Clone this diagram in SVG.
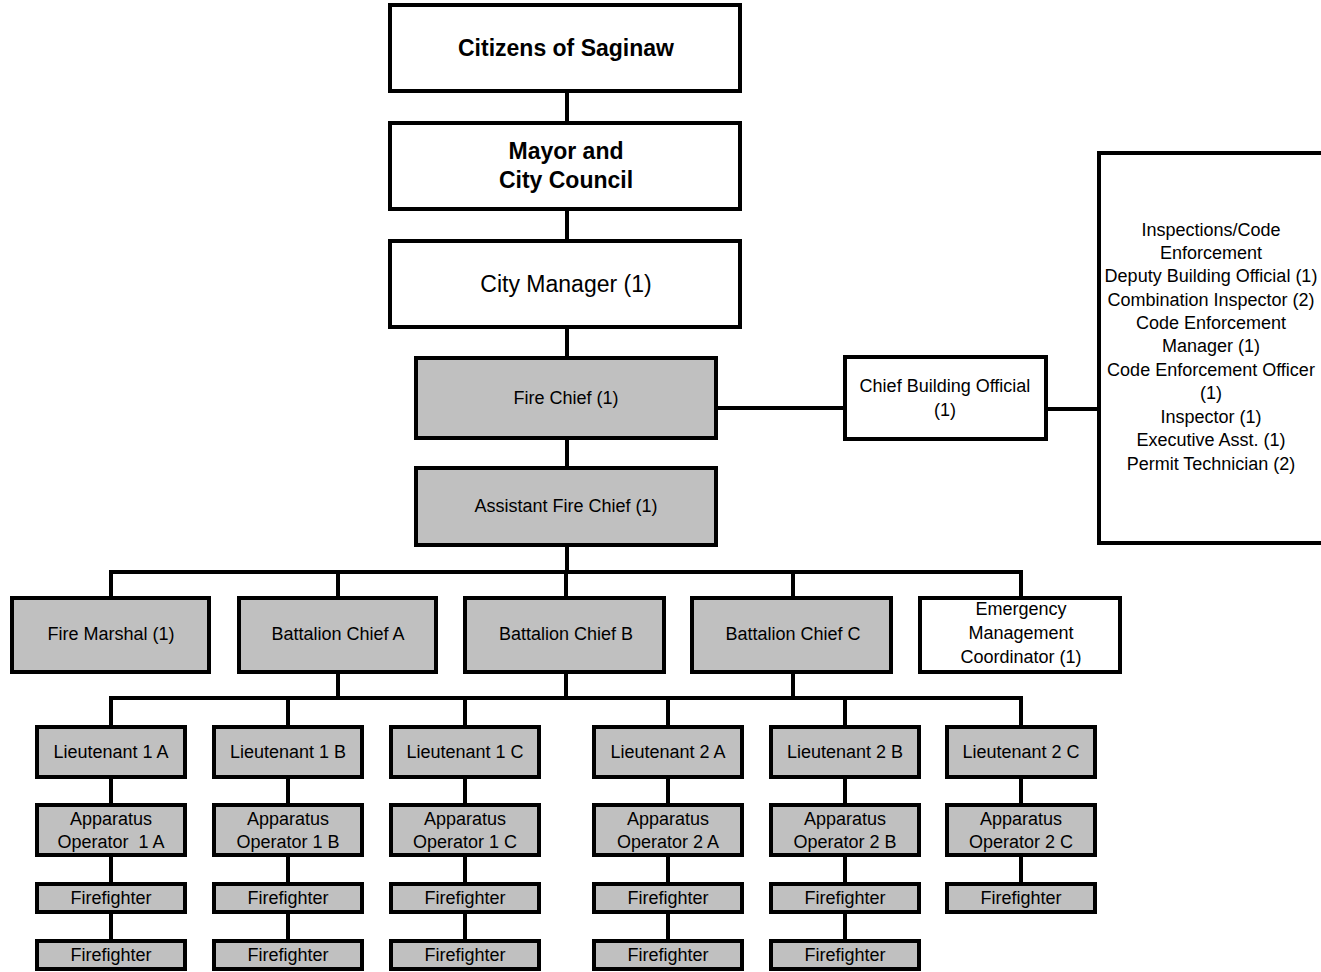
<svg xmlns="http://www.w3.org/2000/svg" width="1321" height="972" viewBox="0 0 1321 972">
<style>
.b{stroke:#000;stroke-width:4;fill:#fff}
.g{stroke:#000;stroke-width:4;fill:#c0c0c0}
.c{stroke:#000;stroke-width:4;fill:none}
text{font-family:"Liberation Sans",Arial,sans-serif;font-size:18px;fill:#000;text-anchor:middle;dominant-baseline:central}
.big{font-size:23px}
.bold{font-weight:bold}
.pre{white-space:pre}
</style>
<g id="connectors">
<path class="c" d="M567,91V123M567,209V241M567,327V358M567,438V468M567,545V572M716,408H845M1046,409H1099M109,572H1023M111,572V598M338,572V598M566,572V598M793,572V598M1021,572V598M338,672V698M566,672V698M793,672V698M109,698H1023M111,698V727M288,698V727M465,698V727M668,698V727M845,698V727M1021,698V727"/>
<path class="c" d="M111,777V805M288,777V805M465,777V805M668,777V805M845,777V805M1021,777V805M111,855V884M288,855V884M465,855V884M668,855V884M845,855V884M1021,855V884M111,912V941M288,912V941M465,912V941M668,912V941M845,912V941"/>
</g>
<g id="citizens"><rect class="b" x="390" y="5" width="350" height="86"/><text class="big bold" x="566" y="48">Citizens of Saginaw</text></g>
<g id="mayor"><rect class="b" x="390" y="123" width="350" height="86"/><text class="big bold" x="566" y="151">Mayor and</text><text class="big bold" x="566" y="180">City Council</text></g>
<g id="citymanager"><rect class="b" x="390" y="241" width="350" height="86"/><text class="big" x="566" y="284">City Manager (1)</text></g>
<g id="firechief"><rect class="g" x="416" y="358" width="300" height="80"/><text x="566" y="398">Fire Chief (1)</text></g>
<g id="asstchief"><rect class="g" x="416" y="468" width="300" height="77"/><text x="566" y="506">Assistant Fire Chief (1)</text></g>
<g id="cbo"><rect class="b" x="845" y="357" width="201" height="82"/><text x="945" y="386">Chief Building Official</text><text x="945" y="410">(1)</text></g>
<g id="inspections"><path class="b" d="M1321,153H1099V543H1321"/>
<text x="1211" y="230">Inspections/Code</text>
<text x="1211" y="253">Enforcement</text>
<text x="1211" y="276">Deputy Building Official (1)</text>
<text x="1211" y="300">Combination Inspector (2)</text>
<text x="1211" y="323">Code Enforcement</text>
<text x="1211" y="346">Manager (1)</text>
<text x="1211" y="370">Code Enforcement Officer</text>
<text x="1211" y="393">(1)</text>
<text x="1211" y="417">Inspector (1)</text>
<text x="1211" y="440">Executive Asst. (1)</text>
<text x="1211" y="464">Permit Technician (2)</text>
</g>
<g id="firemarshal"><rect class="g" x="12" y="598" width="197" height="74"/><text x="111" y="634">Fire Marshal (1)</text></g>
<g id="bca"><rect class="g" x="239" y="598" width="197" height="74"/><text x="338" y="634">Battalion Chief A</text></g>
<g id="bcb"><rect class="g" x="465" y="598" width="199" height="74"/><text x="566" y="634">Battalion Chief B</text></g>
<g id="bcc"><rect class="g" x="692" y="598" width="199" height="74"/><text x="793" y="634">Battalion Chief C</text></g>
<g id="emc"><rect class="b" x="920" y="598" width="200" height="74"/><text x="1021" y="609">Emergency</text><text x="1021" y="633">Management</text><text x="1021" y="657">Coordinator (1)</text></g>
<g id="lt1a"><rect class="g" x="37" y="727" width="148" height="50"/><text x="111" y="752">Lieutenant 1 A</text></g>
<g id="lt1b"><rect class="g" x="214" y="727" width="148" height="50"/><text x="288" y="752">Lieutenant 1 B</text></g>
<g id="lt1c"><rect class="g" x="391" y="727" width="148" height="50"/><text x="465" y="752">Lieutenant 1 C</text></g>
<g id="lt2a"><rect class="g" x="594" y="727" width="148" height="50"/><text x="668" y="752">Lieutenant 2 A</text></g>
<g id="lt2b"><rect class="g" x="771" y="727" width="148" height="50"/><text x="845" y="752">Lieutenant 2 B</text></g>
<g id="lt2c"><rect class="g" x="947" y="727" width="148" height="50"/><text x="1021" y="752">Lieutenant 2 C</text></g>
<g id="ao1a"><rect class="g" x="37" y="805" width="148" height="50"/><text x="111" y="819">Apparatus</text><text class="pre" x="111" y="842">Operator  1 A</text></g>
<g id="ao1b"><rect class="g" x="214" y="805" width="148" height="50"/><text x="288" y="819">Apparatus</text><text x="288" y="842">Operator 1 B</text></g>
<g id="ao1c"><rect class="g" x="391" y="805" width="148" height="50"/><text x="465" y="819">Apparatus</text><text x="465" y="842">Operator 1 C</text></g>
<g id="ao2a"><rect class="g" x="594" y="805" width="148" height="50"/><text x="668" y="819">Apparatus</text><text x="668" y="842">Operator 2 A</text></g>
<g id="ao2b"><rect class="g" x="771" y="805" width="148" height="50"/><text x="845" y="819">Apparatus</text><text x="845" y="842">Operator 2 B</text></g>
<g id="ao2c"><rect class="g" x="947" y="805" width="148" height="50"/><text x="1021" y="819">Apparatus</text><text x="1021" y="842">Operator 2 C</text></g>
<g id="ff1a"><rect class="g" x="37" y="884" width="148" height="28"/><text x="111" y="898">Firefighter</text></g>
<g id="ff1b"><rect class="g" x="214" y="884" width="148" height="28"/><text x="288" y="898">Firefighter</text></g>
<g id="ff1c"><rect class="g" x="391" y="884" width="148" height="28"/><text x="465" y="898">Firefighter</text></g>
<g id="ff2a"><rect class="g" x="594" y="884" width="148" height="28"/><text x="668" y="898">Firefighter</text></g>
<g id="ff2b"><rect class="g" x="771" y="884" width="148" height="28"/><text x="845" y="898">Firefighter</text></g>
<g id="ff2c"><rect class="g" x="947" y="884" width="148" height="28"/><text x="1021" y="898">Firefighter</text></g>
<g id="ff1a2"><rect class="g" x="37" y="941" width="148" height="28"/><text x="111" y="955">Firefighter</text></g>
<g id="ff1b2"><rect class="g" x="214" y="941" width="148" height="28"/><text x="288" y="955">Firefighter</text></g>
<g id="ff1c2"><rect class="g" x="391" y="941" width="148" height="28"/><text x="465" y="955">Firefighter</text></g>
<g id="ff2a2"><rect class="g" x="594" y="941" width="148" height="28"/><text x="668" y="955">Firefighter</text></g>
<g id="ff2b2"><rect class="g" x="771" y="941" width="148" height="28"/><text x="845" y="955">Firefighter</text></g>
</svg>
